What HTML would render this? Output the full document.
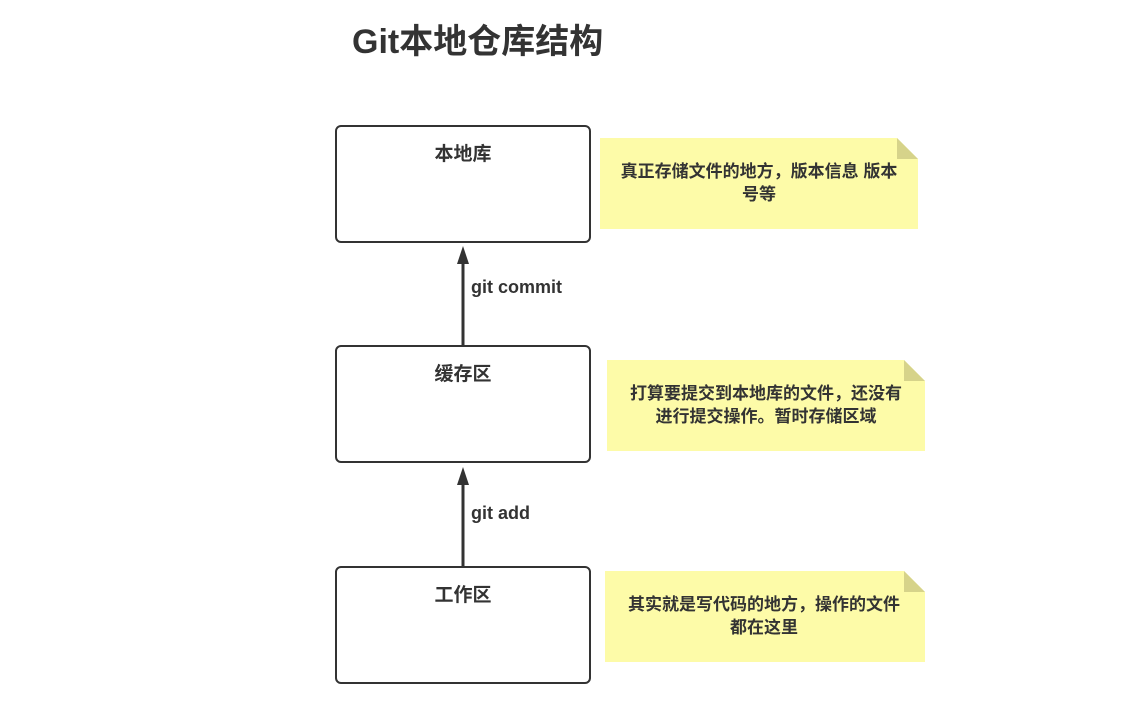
<!DOCTYPE html>
<html><head><meta charset="utf-8"><style>
body{margin:0;width:1139px;height:717px;background:#fff;position:relative;overflow:hidden;font-family:"Liberation Sans","Noto Sans CJK SC",sans-serif;color:#333}
.t{position:absolute;left:352px;top:14px;font-size:34px;font-weight:bold;white-space:nowrap}
.box{position:absolute;left:335px;width:252px;height:114px;border:2px solid #333;border-radius:6px;background:#fff}
.box div{text-align:center;font-weight:bold;font-size:19px;margin-top:12px}
.note{position:absolute;width:318px;height:91px}
.note svg{position:absolute;left:0;top:0}
.note p{position:absolute;left:0;right:0;top:22px;margin:0;text-align:center;font-size:17px;font-weight:bold;line-height:23px;white-space:nowrap}
.lbl{position:absolute;left:471px;font-size:18px;font-weight:bold}
</style></head><body>
<div class="t">Git本地仓库结构</div>
<div class="box" style="top:125px"><div>本地库</div></div>
<div class="box" style="top:345px"><div>缓存区</div></div>
<div class="box" style="top:566px"><div>工作区</div></div>
<svg style="position:absolute;left:0;top:0" width="1139" height="717">
<line x1="463" y1="345" x2="463" y2="262" stroke="#333" stroke-width="3"/>
<polygon points="463,246 457,264 469,264" fill="#333"/>
<line x1="463" y1="566" x2="463" y2="483" stroke="#333" stroke-width="3"/>
<polygon points="463,467 457,485 469,485" fill="#333"/>
</svg>
<div class="lbl" style="top:277px">git commit</div>
<div class="lbl" style="top:503px">git add</div>
<div class="note" style="left:600px;top:138px"><svg width="318" height="91"><polygon points="0,0 297,0 318,21 318,91 0,91" fill="#fdfba8"/><polygon points="297,0 318,21 297,21" fill="#d6d38a"/></svg><p>真正存储文件的地方，版本信息 版本<br>号等</p></div>
<div class="note" style="left:607px;top:360px"><svg width="318" height="91"><polygon points="0,0 297,0 318,21 318,91 0,91" fill="#fdfba8"/><polygon points="297,0 318,21 297,21" fill="#d6d38a"/></svg><p>打算要提交到本地库的文件，还没有<br>进行提交操作。暂时存储区域</p></div>
<div class="note" style="left:605px;top:571px"><svg width="320" height="91"><polygon points="0,0 299,0 320,21 320,91 0,91" fill="#fdfba8"/><polygon points="299,0 320,21 299,21" fill="#d6d38a"/></svg><p>其实就是写代码的地方，操作的文件<br>都在这里</p></div>
</body></html>
